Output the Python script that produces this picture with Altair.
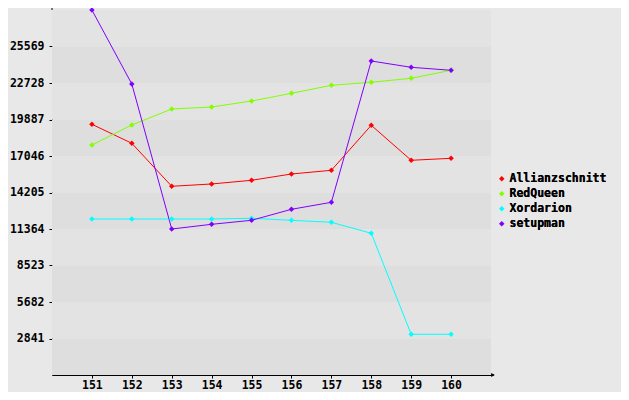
import altair as alt
import pandas as pd

rounds = [151, 152, 153, 154, 155, 156, 157, 158, 159, 160]
players = ["Allianzschnitt", "RedQueen", "Xordarion", "setupman"]
colors = ["#ff0000", "#80ff00", "#00ffff", "#8000ff"]

allianzschnitt = [19514, 18035, 14688, 14868, 15155, 15645, 15933, 19436, 16712, 16867]
redqueen = [17902, 19459, 20704, 20860, 21327, 21926, 22550, 22783, 23094, 23717]
xordarion = [12142, 12142, 12142, 12142, 12197, 12041, 11886, 11030, 3168, 3168]
setupman = [28410, 22650, 11364, 11730, 12041, 12897, 13442, 24440, 23950, 23717]

y_ticks = [2841, 5682, 8523, 11364, 14205, 17046, 19887, 22728, 25569]
y_max = 28410
band_step = 2841
x_domain = [150, 161]

series = [allianzschnitt, redqueen, xordarion, setupman]
rows = []
for name, vals in zip(players, series):
    for r, v in zip(rounds, vals):
        rows.append({"round": r, "points": v, "player": name})
df = pd.DataFrame(rows)

bands = pd.DataFrame({
    "lo": [k * band_step for k in range(10)],
    "hi": [(k + 1) * band_step for k in range(10)],
    "shade": ["dark" if k % 2 == 0 else "light" for k in range(10)],
    "x0": [x_domain[0]] * 10,
    "x1": [x_domain[1]] * 10,
})

FONT = "DejaVu Sans Mono"
W, H = 439, 365

xscale = alt.Scale(domain=x_domain, nice=False, zero=False)
yscale = alt.Scale(domain=[0, y_max], nice=False)

x_axis = alt.Axis(values=rounds, format="d", title=None, grid=False,
                  domainColor="black", tickColor="black", tickSize=3,
                  labelPadding=1, labelFont=FONT, labelFontSize=11.5,
                  labelFontWeight="bold", labelColor="black")
y_axis = alt.Axis(values=y_ticks, format="d", title=None, grid=False,
                  domainColor="black", tickColor="black", tickSize=3,
                  labelPadding=5, labelFont=FONT, labelFontSize=11.5,
                  labelFontWeight="bold", labelColor="black")

band_layer = alt.Chart(bands).mark_rect().encode(
    x=alt.X("x0:Q", scale=xscale, axis=x_axis),
    x2="x1:Q",
    y=alt.Y("lo:Q", scale=yscale, axis=y_axis),
    y2="hi:Q",
    color=alt.Color("shade:N", scale=alt.Scale(domain=["dark", "light"], range=["#dedede", "#e3e3e3"]), legend=None),
)

base = alt.Chart(df).encode(
    x=alt.X("round:Q", scale=xscale, axis=x_axis),
    y=alt.Y("points:Q", scale=yscale, axis=y_axis),
    color=alt.Color("player:N", scale=alt.Scale(domain=players, range=colors),
                    legend=alt.Legend(title=None, orient="none", legendX=444, legendY=163,
                                      symbolType="diamond", symbolSize=30,
                                      symbolStrokeWidth=0, labelFont=FONT,
                                      labelFontSize=11.5, labelFontWeight="bold",
                                      labelColor="black", rowPadding=2, labelOffset=2)),
)

lines = base.mark_line(strokeWidth=1)
points = base.mark_point(shape="diamond", filled=True, size=30, opacity=1)

arrow_df = pd.DataFrame({"a": [0]})
y_arrow_line = alt.Chart(arrow_df).mark_rule(color="black").encode(
    x=alt.value(0), y=alt.value(-6), y2=alt.value(0))
y_arrow_head = alt.Chart(arrow_df).mark_point(shape="triangle-up", filled=True, color="black", size=18, opacity=1).encode(
    x=alt.value(0), y=alt.value(-4))
x_arrow_line = alt.Chart(arrow_df).mark_rule(color="black").encode(
    x=alt.value(W), x2=alt.value(W + 3), y=alt.value(H))
x_arrow_head = alt.Chart(arrow_df).mark_point(shape="triangle-right", filled=True, color="black", size=18, opacity=1).encode(
    x=alt.value(W + 2), y=alt.value(H))

chart = alt.layer(band_layer, lines, points, y_arrow_line, y_arrow_head, x_arrow_line, x_arrow_head).resolve_scale(
    color="independent"
).properties(
    width=W, height=H,
    background="#e8e8e8",
    padding={"left": 44, "top": 2, "right": 130, "bottom": 17},
    autosize=alt.AutoSizeParams(type="none"),
).configure_view(stroke=None)

chart.save("out.html", embed_options={"renderer": "svg", "actions": False})
